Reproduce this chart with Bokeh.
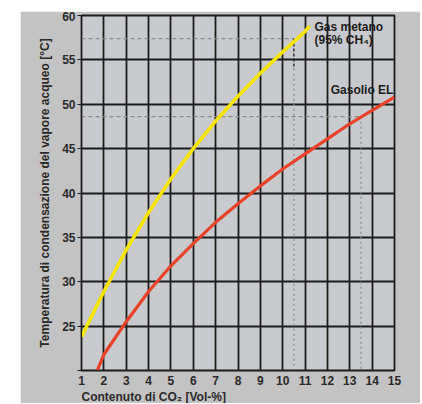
from bokeh.plotting import figure
from bokeh.models import Range1d, FixedTicker, Label, Spacer, Title
from bokeh.layouts import row, column
from bokeh.embed import file_html
from bokeh.resources import INLINE

# Data
x_ticks = list(range(1, 16))
y_ticks = [20, 25, 30, 35, 40, 45, 50, 55, 60]

x_metano = [1, 2, 3, 4, 5, 6, 7, 8, 9, 10, 11, 11.2]
y_metano = [23.8, 28.9, 33.6, 37.8, 41.6, 45.0, 48.1, 50.9, 53.5, 55.9, 58.2, 58.8]

x_gasolio = [1.7, 2, 3, 4, 5, 6, 7, 8, 9, 10, 11, 12, 13, 14, 15]
y_gasolio = [20.0, 21.8, 25.5, 28.9, 31.8, 34.3, 36.7, 38.8, 40.8, 42.7, 44.4, 46.1, 47.8, 49.3, 50.8]

# reference (dew point) markers
metano_ref_x = 10.5
metano_ref_y = 57.4
gasolio_ref_x = 13.5
gasolio_ref_y = 48.6

FONT = "Liberation Sans"
DARK = "#1c1c1c"
TXT = "#2a2a2a"

p = figure(width=400, height=392, output_backend="svg", toolbar_location=None,
           x_range=Range1d(1, 15), y_range=Range1d(20, 60),
           min_border_left=61, min_border_right=26, min_border_top=4, min_border_bottom=32)
p.background_fill_color = "#c9cacd"
p.border_fill_color = "#c3c3c3"
p.outline_line_color = DARK
p.outline_line_width = 1.8

p.xaxis.ticker = FixedTicker(ticks=x_ticks)
p.yaxis.ticker = FixedTicker(ticks=y_ticks)
p.yaxis.major_label_overrides = {20: ""}
for ax in (p.xaxis, p.yaxis):
    ax.axis_line_color = DARK
    ax.major_tick_in = 0
    ax.minor_tick_line_color = None
    ax.major_label_text_font = FONT
    ax.major_label_text_font_style = "bold"
    ax.major_label_text_font_size = "12px"
    ax.major_label_text_color = TXT
    ax.axis_label_text_font = FONT
    ax.axis_label_text_font_style = "bold"
    ax.axis_label_text_font_size = "12px"
    ax.axis_label_text_color = TXT
p.xaxis.major_tick_out = 0
p.xaxis.major_label_standoff = 5
p.yaxis.major_tick_out = 4
p.yaxis.major_tick_line_color = DARK
p.yaxis.major_label_standoff = 2
p.yaxis.axis_label = "Temperatura di condensazione del vapore acqueo [°C]"
p.yaxis.axis_label_standoff = 7

p.xgrid.grid_line_color = DARK
p.xgrid.grid_line_width = 1.8
p.ygrid.grid_line_color = DARK
p.ygrid.grid_line_width = 1.8

# x-axis title, left aligned under the first tick
p.add_layout(Title(text="Contenuto di CO₂ [Vol-%]", align="left", text_font=FONT,
                   text_font_style="bold", text_font_size="12px", text_color=TXT,
                   standoff=0, offset=0), "below")

# dashed reference lines
p.line([1, metano_ref_x], [metano_ref_y, metano_ref_y], line_color="#8c8c8c",
       line_width=1.2, line_dash="4 3")
p.line([1, gasolio_ref_x], [gasolio_ref_y, gasolio_ref_y], line_color="#8c8c8c",
       line_width=1.2, line_dash="4 3")
p.line([metano_ref_x, metano_ref_x], [metano_ref_y, 54], line_color="#111111",
       line_width=1.2, line_dash="3 2")
p.line([metano_ref_x, metano_ref_x], [54, 20], line_color="#8a8a8a",
       line_width=1.2, line_dash="2 3")
p.line([gasolio_ref_x, gasolio_ref_x], [gasolio_ref_y, 20], line_color="#8a8a8a",
       line_width=1.2, line_dash="2 3")

# curves
p.line(x_metano, y_metano, line_color="#f5e400", line_width=3.5)
p.line(x_gasolio, y_gasolio, line_color="#e8432a", line_width=3.2)

for txt, x, y, align in [("Gas metano", 11.42, 58.75, "left"),
                         ("(95% CH₄)", 11.42, 57.2, "left"),
                         ("Gasolio EL", 14.95, 51.65, "right")]:
    p.add_layout(Label(x=x, y=y, text=txt, text_font=FONT, text_font_style="bold",
                       text_font_size="12px", text_color=DARK,
                       text_align=align, text_baseline="middle"))

layout = row(Spacer(width=20), column(Spacer(height=11), p))
open("out.html", "w").write(file_html(layout, INLINE))
